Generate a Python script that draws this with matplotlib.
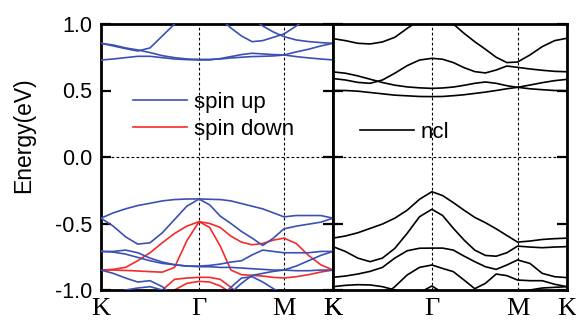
import numpy as np
import matplotlib
matplotlib.use("Agg")
import matplotlib.pyplot as plt

# k-path K - Gamma - M - K (hexagonal lengths 1 : 0.866 : 0.5)
k_sym = [0.0, 1.0, 1.866, 2.366]
k_labels = ["K", "Γ", "M", "K"]
k = np.concatenate([np.linspace(0, 1, 9),
                    1 + 0.866 * np.linspace(0, 1, 9)[1:],
                    1.866 + 0.5 * np.linspace(0, 1, 5)[1:]])

# spin up bands (eV), read at the 21 k points
up_1 = [-0.46, -0.42, -0.39, -0.365, -0.348, -0.33, -0.32, -0.316, -0.315, -0.318, -0.32,
        -0.33, -0.35, -0.37, -0.39, -0.42, -0.45, -0.44, -0.44, -0.44, -0.46]
up_2 = [-0.46, -0.52, -0.60, -0.655, -0.645, -0.57, -0.47, -0.37, -0.316, -0.36, -0.445,
        -0.50, -0.56, -0.61, -0.665, -0.61, -0.54, -0.52, -0.505, -0.49, -0.46]
up_3 = [-0.71, -0.71, -0.70, -0.72, -0.76, -0.79, -0.81, -0.82, -0.82, -0.815, -0.805,
        -0.79, -0.78, -0.736, -0.70, -0.71, -0.72, -0.72, -0.72, -0.71, -0.71]
up_4 = [-0.71, -0.715, -0.73, -0.755, -0.78, -0.80, -0.81, -0.82, -0.825, -0.825, -0.83,
        -0.83, -0.835, -0.84, -0.845, -0.85, -0.85, -0.82, -0.78, -0.74, -0.71]
up_5 = [-0.85, -0.875, -0.91, -0.94, -0.93, -0.975, -1.05, -1.1, -1.12, -1.1, -1.06,
        -1.02, -0.95, -0.89, -0.875, -0.86, -0.85, -0.855, -0.855, -0.85, -0.85]
up_6 = [-1.05, -1.03, -1.0, -0.985, -0.975, -1.0, -1.05, -1.1, -1.1, -1.1, -1.05,
        -0.98, -0.91, -0.90, -0.94, -0.99, -1.03, -1.05, -1.05, -1.05, -1.05]
up_7 = [0.855, 0.842, 0.82, 0.805, 0.785, 0.762, 0.747, 0.737, 0.734, 0.734, 0.737,
        0.745, 0.75, 0.755, 0.757, 0.76, 0.767, 0.755, 0.745, 0.737, 0.73]
up_8 = [0.729, 0.737, 0.747, 0.757, 0.757, 0.747, 0.737, 0.732, 0.729, 0.73, 0.74,
        0.755, 0.77, 0.78, 0.775, 0.77, 0.767, 0.79, 0.81, 0.835, 0.855]
up_9 = [0.855, 0.835, 0.815, 0.797, 0.82, 0.91, 1.0, 1.08, 1.12, 1.1, 1.04,
        0.97, 0.91, 0.867, 0.875, 0.90, 0.925, 0.985, 1.05, 1.1, 1.15]
up_10 = [1.4, 1.35, 1.3, 1.25, 1.2, 1.18, 1.16, 1.15, 1.15, 1.15, 1.15,
         1.12, 1.1, 1.04, 0.985, 0.94, 0.905, 0.88, 0.868, 0.86, 0.855]

# spin down bands
dn_1 = [-0.85, -0.845, -0.83, -0.78, -0.72, -0.645, -0.575, -0.52, -0.486, -0.50, -0.53,
        -0.595, -0.64, -0.66, -0.65, -0.625, -0.61, -0.65, -0.74, -0.81, -0.85]
dn_2 = [-0.85, -0.85, -0.853, -0.857, -0.862, -0.866, -0.83, -0.63, -0.486, -0.53, -0.67,
        -0.85, -0.885, -0.89, -0.895, -0.905, -0.91, -0.90, -0.885, -0.865, -0.85]
dn_3 = [-1.1, -1.1, -1.1, -1.1, -1.05, -1.0, -0.92, -0.91, -0.905, -0.905, -0.92,
        -0.98, -1.05, -1.1, -1.1, -1.1, -1.1, -1.1, -1.1, -1.1, -1.1]
dn_4 = [-1.2, -1.2, -1.2, -1.2, -1.2, -1.1, -1.0, -0.95, -0.935, -0.94, -0.97,
        -1.02, -1.1, -1.2, -1.2, -1.2, -1.2, -1.2, -1.2, -1.2, -1.2]

# non-collinear bands
ncl_1 = [-0.61, -0.594, -0.57, -0.537, -0.504, -0.46, -0.40, -0.318, -0.261, -0.29, -0.343,
         -0.40, -0.454, -0.494, -0.54, -0.59, -0.64, -0.632, -0.62, -0.614, -0.61]
ncl_2 = [-0.674, -0.71, -0.76, -0.787, -0.76, -0.687, -0.574, -0.449, -0.393, -0.44, -0.536,
         -0.624, -0.70, -0.74, -0.746, -0.72, -0.67, -0.677, -0.682, -0.677, -0.674]
ncl_3 = [-0.905, -0.895, -0.88, -0.86, -0.83, -0.76, -0.705, -0.686, -0.685, -0.685, -0.70,
         -0.745, -0.787, -0.825, -0.845, -0.812, -0.774, -0.80, -0.875, -0.90, -0.907]
ncl_4 = [-1.1, -1.1, -1.1, -1.08, -1.05, -0.975, -0.887, -0.83, -0.812, -0.838, -0.862,
         -0.925, -0.99, -0.95, -0.88, -0.892, -0.925, -0.93, -0.93, -0.957, -0.975]
ncl_5 = [-0.975, -0.965, -0.96, -0.962, -0.975, -1.0, -1.05, -1.1, -1.1, -1.1, -1.1,
         -1.1, -1.1, -1.1, -1.1, -1.08, -1.05, -1.0, -0.985, -0.98, -0.975]
ncl_6 = [-1.2, -1.2, -1.2, -1.2, -1.2, -1.2, -1.1, -1.02, -0.97, -1.02, -1.1,
         -1.2, -1.2, -1.2, -1.2, -1.2, -1.2, -1.2, -1.2, -1.2, -1.2]
ncl_7 = [0.89, 0.875, 0.855, 0.85, 0.865, 0.90, 0.967, 1.03, 1.06, 1.04, 1.0,
         0.93, 0.867, 0.81, 0.75, 0.71, 0.714, 0.767, 0.83, 0.875, 0.893]
ncl_8 = [0.64, 0.63, 0.61, 0.585, 0.56, 0.54, 0.527, 0.52, 0.516, 0.519, 0.526,
         0.539, 0.554, 0.564, 0.554, 0.536, 0.524, 0.541, 0.559, 0.574, 0.584]
ncl_9 = [0.59, 0.579, 0.561, 0.554, 0.579, 0.63, 0.687, 0.729, 0.742, 0.735, 0.71,
         0.672, 0.642, 0.632, 0.654, 0.684, 0.674, 0.662, 0.652, 0.644, 0.641]
ncl_10 = [0.50, 0.50, 0.495, 0.485, 0.475, 0.465, 0.46, 0.455, 0.454, 0.455, 0.461,
          0.468, 0.478, 0.488, 0.50, 0.513, 0.524, 0.513, 0.506, 0.50, 0.499]

spin_up = [up_1, up_2, up_3, up_4, up_5, up_6, up_7, up_8, up_9, up_10]
spin_down = [dn_1, dn_2, dn_3, dn_4]
ncl = [ncl_1, ncl_2, ncl_3, ncl_4, ncl_5, ncl_6, ncl_7, ncl_8, ncl_9, ncl_10]

BLUE = "#3c50b4"
RED = "#f52a2a"

plt.rcParams["font.family"] = ["Liberation Sans", "DejaVu Sans"]

fig = plt.figure(figsize=(5.76, 3.29), dpi=100)
ax1 = fig.add_axes([101 / 576, 39 / 329, 232 / 576, 266 / 329])
ax2 = fig.add_axes([333 / 576, 39 / 329, 234 / 576, 266 / 329])


def style(ax):
    ax.set_xlim(k_sym[0], k_sym[-1])
    ax.set_ylim(-1.0, 1.0)
    for x in k_sym[1:-1]:
        ax.axvline(x, color="k", lw=0.8, ls=(0, (2.5, 2)), zorder=1)
    ax.axhline(0, color="k", lw=0.8, ls=(0, (2.5, 2)), zorder=1)
    for s in ax.spines.values():
        s.set_linewidth(2)
    ax.set_yticks([-1.0, -0.5, 0.0, 0.5, 1.0])
    ax.tick_params(axis="y", direction="in", length=7, width=1.6, left=True, right=True,
                   labelsize=15.5, pad=6.5)
    ax.set_xticks(k_sym)
    ax.set_xticklabels(k_labels, family=["Liberation Serif", "DejaVu Serif"], fontsize=19)
    ax.tick_params(axis="x", length=0, pad=6)


for i, band in enumerate(spin_up):
    ax1.plot(k, band, color=BLUE, lw=1.2, label="spin up" if i == 0 else None, zorder=3)
for i, band in enumerate(spin_down):
    ax1.plot(k, band, color=RED, lw=1.2, label="spin down" if i == 0 else None, zorder=2)
for i, band in enumerate(ncl):
    ax2.plot(k, band, color="k", lw=1.2, label="ncl" if i == 0 else None)

style(ax1)
style(ax2)
ax1.set_yticklabels(["-1.0", "-0.5", "0.0", "0.5", "1.0"])
ax2.set_yticklabels([])
ax1.set_ylabel("Energy(eV)", fontsize=16.5)
ax1.yaxis.set_label_coords(-0.284, 0.583)

ax1.legend(loc="upper left", bbox_to_anchor=(0.138, 0.745), frameon=False, fontsize=16,
           handlelength=2.45, handletextpad=0.28, labelspacing=0.27, borderpad=0,
           borderaxespad=0)
ax2.legend(loc="upper left", bbox_to_anchor=(0.115, 0.632), frameon=False, fontsize=16,
           handlelength=2.45, handletextpad=0.28, borderpad=0, borderaxespad=0)

fig.savefig("out.png", dpi=100)
